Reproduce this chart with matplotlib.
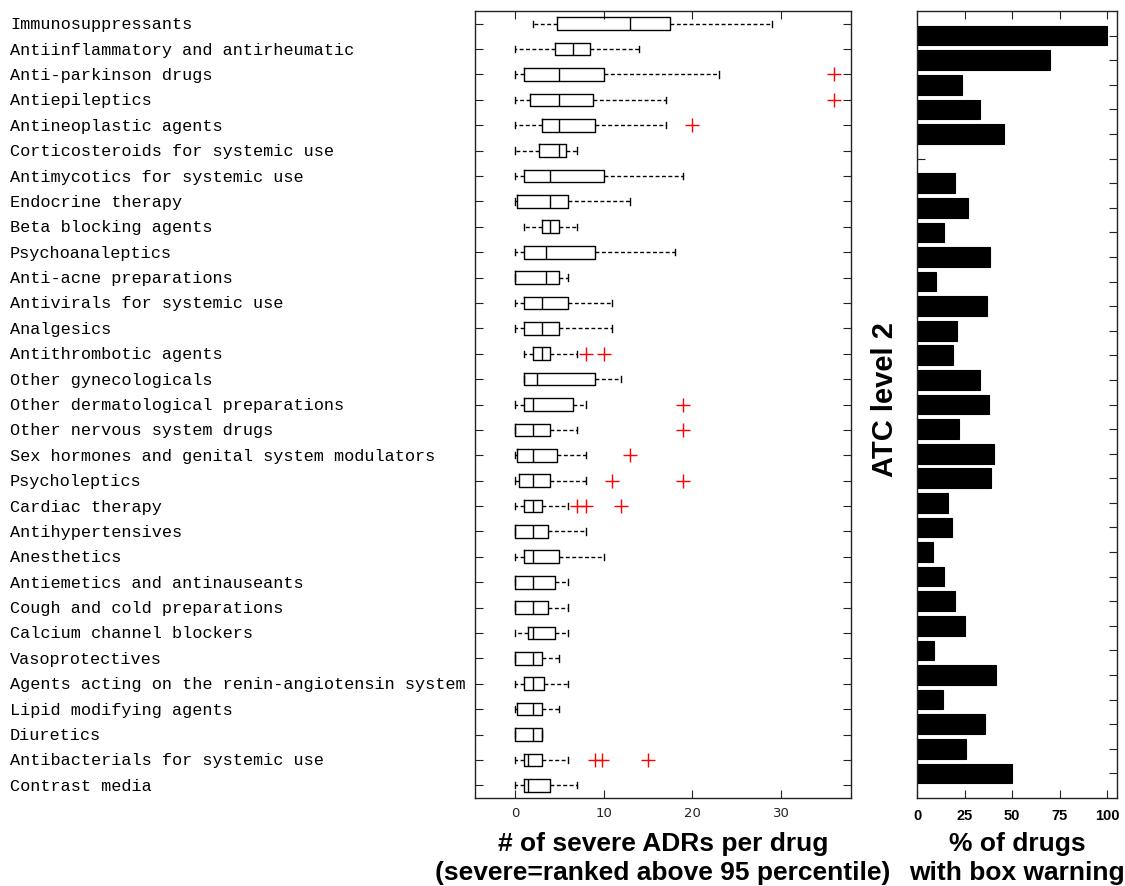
import matplotlib
matplotlib.use("Agg")
import matplotlib.pyplot as plt

# ATC level-2 drug classes, top to bottom
categories = [
    "Immunosuppressants",
    "Antiinflammatory and antirheumatic",
    "Anti-parkinson drugs",
    "Antiepileptics",
    "Antineoplastic agents",
    "Corticosteroids for systemic use",
    "Antimycotics for systemic use",
    "Endocrine therapy",
    "Beta blocking agents",
    "Psychoanaleptics",
    "Anti-acne preparations",
    "Antivirals for systemic use",
    "Analgesics",
    "Antithrombotic agents",
    "Other gynecologicals",
    "Other dermatological preparations",
    "Other nervous system drugs",
    "Sex hormones and genital system modulators",
    "Psycholeptics",
    "Cardiac therapy",
    "Antihypertensives",
    "Anesthetics",
    "Antiemetics and antinauseants",
    "Cough and cold preparations",
    "Calcium channel blockers",
    "Vasoprotectives",
    "Agents acting on the renin-angiotensin system",
    "Lipid modifying agents",
    "Diuretics",
    "Antibacterials for systemic use",
    "Contrast media",
]

# Box statistics: number of severe ADRs per drug
whislo = [2, 0, 0, 0, 0, 0, 0, 0, 1, 0, 0, 0, 0, 1, 1, 0, 0, 0, 0, 0,
          0, 0, 0, 0, 0, 0, 0, 0, 0, 0, 0]
q1 = [4.75, 4.5, 1, 1.75, 3, 2.75, 1, 0.25, 3, 1, 0, 1, 1, 2, 1, 1, 0, 0.25,
      0.5, 1, 0, 1, 0, 0, 1.5, 0, 1, 0.25, 0, 1, 1]
med = [13, 6.5, 5, 5, 5, 5, 4, 4, 4, 3.5, 3.5, 3, 3, 3, 2.5, 2, 2, 2, 2, 2,
       2, 2, 2, 2, 2, 2, 2, 2, 2, 1.5, 1.5]
q3 = [17.5, 8.5, 10, 8.75, 9, 5.75, 10, 6, 5, 9, 5, 6, 5, 4, 9, 6.5, 4, 4.75,
      4, 3, 3.75, 5, 4.5, 3.75, 4.5, 3, 3.25, 3, 3, 3, 4]
whishi = [29, 14, 23, 17, 17, 7, 19, 13, 7, 18, 6, 11, 11, 7, 12, 8, 7, 8, 8,
          6, 8, 10, 6, 6, 6, 5, 6, 5, 3, 6, 7]
outliers = [[], [], [36], [36], [20], [], [], [], [], [], [], [], [], [8, 10],
            [], [19], [19], [13], [11, 19], [7, 8, 12], [], [], [], [], [],
            [], [], [], [], [9, 9.8, 15], []]

# Share of drugs carrying a boxed warning (%)
box_warning_pct = [100, 70, 23.6, 33.4, 46, 0, 20.1, 26.6, 14.3, 38.2, 10,
                   36.8, 20.8, 18.7, 33.4, 37.7, 22.1, 40.3, 38.7, 16.1, 18.2,
                   8.4, 14.2, 20.1, 25, 9.1, 41.3, 13.5, 35.7, 25.7, 50.1]

box_ticks = [0, 10, 20, 30]
pct_ticks = [0, 25, 50, 75, 100]

W, H = 1125, 887
fig = plt.figure(figsize=(W / 100, H / 100), dpi=100)
ax = fig.add_axes([475 / W, 1 - 799 / H, 376 / W, 787 / H])
ax2 = fig.add_axes([917 / W, 1 - 799 / H, 200 / W, 787 / H])

edge = "#222222"
label_font = "Liberation Sans"

# ---- box plot ----
positions = list(range(1, len(categories) + 1))
stats = [
    dict(whislo=lo, q1=a, med=m, q3=b, whishi=hi, fliers=fl)
    for lo, a, m, b, hi, fl in zip(whislo, q1, med, q3, whishi, outliers)
]
ax.bxp(
    stats,
    positions=positions,
    widths=0.5,
    orientation="horizontal",
    manage_ticks=False,
    boxprops=dict(color="black", linewidth=1.0),
    medianprops=dict(color="black", linewidth=1.0),
    whiskerprops=dict(color="black", linewidth=1.0, linestyle=(0, (2.8, 1.8))),
    capprops=dict(color="black", linewidth=1.0),
    flierprops=dict(marker="+", markeredgecolor="red", markersize=10,
                    markeredgewidth=1.0, linestyle="none"),
)
ax.set_xlim(-4.5, 37.9)
ax.set_ylim(len(categories) + 0.5, 0.5)
ax.set_xticks(box_ticks)
ax.set_xticklabels([str(t) for t in box_ticks], fontsize=9.5,
                   family="DejaVu Sans", color="#222222")
ax.set_yticks(positions, categories, ha="left", va="center",
              family="Liberation Mono", fontsize=12.2)
ax.tick_params(axis="y", direction="in", length=6, left=True, right=True,
               pad=465 * 0.72, color=edge)
ax.tick_params(axis="x", direction="in", length=6, top=True, bottom=True,
               pad=6, color=edge)
for s in ax.spines.values():
    s.set_color(edge)
    s.set_linewidth(1.0)
ax.set_xlabel("# of severe ADRs per drug\n(severe=ranked above 95 percentile)",
              fontsize=19, fontweight="bold", family=label_font,
              linespacing=1.27)
ax.xaxis.set_label_coords(0.5, -0.0415)
ax.xaxis.label.set_va("top")

# ---- bar chart ----
ax2.set_axisbelow(True)
ax2.barh(positions, box_warning_pct, height=0.8, color="black",
         edgecolor="black", linewidth=0.8)
ax2.set_xlim(0, 105.2)
ax2.set_ylim(len(categories) + 1, 0)
ax2.set_yticks(positions)
ax2.set_yticklabels([])
ax2.set_xticks(pct_ticks)
ax2.set_xticklabels([str(t) for t in pct_ticks], fontsize=10.5,
                    fontweight="bold", family=label_font)
ax2.tick_params(axis="y", direction="in", length=6, left=True, right=True,
                color=edge)
ax2.tick_params(axis="x", direction="in", length=6, top=True, bottom=True,
                pad=7.5, color=edge)
for s in ax2.spines.values():
    s.set_color(edge)
    s.set_linewidth(1.0)
ax2.set_xlabel("% of drugs\nwith box warning", fontsize=19, fontweight="bold",
               family=label_font, linespacing=1.27)
ax2.xaxis.set_label_coords(0.5, -0.0415)
ax2.xaxis.label.set_va("top")
ax2.set_ylabel("ATC level 2", fontsize=21, fontweight="bold",
               family=label_font)
ax2.yaxis.set_label_coords(-0.16, 0.507)
ax2.yaxis.label.set_va("center")

fig.savefig("out.png", dpi=100)
